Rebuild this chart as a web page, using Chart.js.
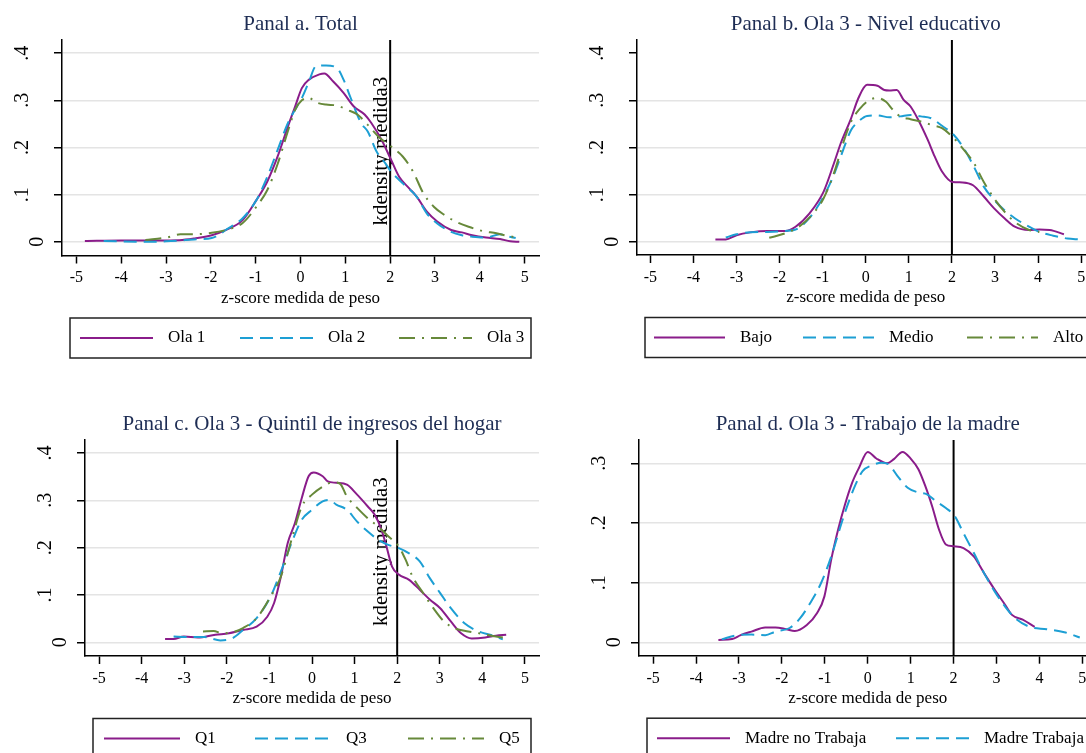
<!DOCTYPE html>
<html lang="es">
<head>
<meta charset="UTF-8">
<title>z-score medida de peso - kdensity</title>
<script src="https://cdn.jsdelivr.net/npm/chart.js"></script>
<style>
  html, body { margin: 0; padding: 0; background: #fff; }
  body { width: 1086px; height: 753px; overflow: hidden; position: relative; }
  .panel { position: absolute; overflow: hidden; }
</style>
</head>
<body>
<div class="panel" style="left:0;top:0;width:543px;height:400px"><canvas id="panelA" width="543" height="400"></canvas></div>
<div class="panel" style="left:543px;top:0;width:543px;height:400px"><canvas id="panelB" width="600" height="400"></canvas></div>
<div class="panel" style="left:0;top:400px;width:543px;height:353px"><canvas id="panelC" width="543" height="353"></canvas></div>
<div class="panel" style="left:543px;top:400px;width:543px;height:353px"><canvas id="panelD" width="600" height="353"></canvas></div>

<script>
// linea vertical de referencia (z = 2)
const xLineValue = 2;

// Panel a. Total
const ola1X = [-4.81,-4.0,-3.2,-2.7,-2.37,-1.98,-1.67,-1.29,-0.98,-0.74,-0.51,-0.28,-0.12,0.03,0.19,0.42,0.53,0.73,0.96,1.19,1.43,1.58,1.81,2.02,2.2,2.43,2.59,2.82,3.05,3.36,3.6,3.83,4.14,4.45,4.68,4.88];
const ola1Y = [0.002,0.003,0.003,0.0035,0.007,0.014,0.025,0.046,0.089,0.128,0.181,0.245,0.287,0.326,0.344,0.355,0.357,0.340,0.316,0.287,0.270,0.252,0.216,0.174,0.138,0.113,0.096,0.064,0.043,0.025,0.020,0.014,0.009,0.006,0.001,0.0];
const ola2X = [-4.39,-3.5,-3.0,-2.37,-1.98,-1.83,-1.67,-1.29,-0.98,-0.74,-0.51,-0.28,0.05,0.19,0.34,0.57,0.81,0.96,1.12,1.35,1.5,1.7,1.89,2.02,2.28,2.59,2.82,3.05,3.36,3.6,3.83,4.14,4.45,4.6,4.8];
const ola2Y = [0.002,0.0,0.001,0.005,0.008,0.014,0.025,0.05,0.089,0.138,0.195,0.252,0.309,0.34,0.372,0.374,0.369,0.344,0.305,0.252,0.234,0.191,0.167,0.149,0.124,0.096,0.06,0.039,0.021,0.014,0.011,0.009,0.016,0.012,0.008];
const ola3X = [-3.46,-2.99,-2.68,-2.37,-1.98,-1.67,-1.29,-0.98,-0.74,-0.51,-0.28,-0.12,0.03,0.19,0.34,0.57,0.81,1.04,1.27,1.5,1.74,2.02,2.28,2.51,2.74,2.98,3.21,3.44,3.75,4.06,4.37,4.6,4.84];
const ola3Y = [0.004,0.009,0.016,0.016,0.019,0.025,0.04,0.075,0.11,0.165,0.235,0.28,0.300,0.305,0.296,0.291,0.289,0.28,0.27,0.248,0.223,0.202,0.181,0.149,0.103,0.074,0.057,0.044,0.032,0.023,0.018,0.013,0.009];

// Panel b. Nivel educativo
const bajoX = [-3.49,-3.25,-3.0,-2.68,-2.28,-1.87,-1.63,-1.31,-0.98,-0.74,-0.58,-0.34,-0.17,0.03,0.27,0.43,0.55,0.72,0.88,1.04,1.2,1.44,1.6,1.77,2.01,2.25,2.49,2.74,2.98,3.22,3.46,3.79,4.03,4.27,4.6];
const bajoY = [0.005,0.005,0.014,0.02,0.023,0.023,0.032,0.06,0.106,0.166,0.209,0.262,0.305,0.333,0.331,0.322,0.321,0.322,0.301,0.287,0.262,0.216,0.181,0.149,0.127,0.126,0.12,0.096,0.071,0.05,0.032,0.025,0.026,0.025,0.016];
const medioX = [-3.25,-3.0,-2.68,-2.28,-1.87,-1.63,-1.31,-0.98,-0.74,-0.58,-0.34,-0.17,0.03,0.27,0.55,0.8,1.04,1.28,1.52,1.77,2.01,2.25,2.49,2.74,2.98,3.22,3.46,3.79,4.03,4.35,4.68,4.96];
const medioY = [0.009,0.016,0.02,0.021,0.023,0.026,0.05,0.096,0.142,0.181,0.237,0.255,0.267,0.268,0.264,0.266,0.269,0.266,0.262,0.246,0.23,0.202,0.163,0.117,0.089,0.067,0.05,0.032,0.021,0.013,0.007,0.005];
const altoX = [-2.24,-1.87,-1.55,-1.22,-0.98,-0.74,-0.5,-0.34,-0.13,0.07,0.27,0.47,0.63,0.8,1.04,1.28,1.52,1.77,2.01,2.25,2.49,2.74,2.98,3.22,3.46,3.79,4.03];
const altoY = [0.0085,0.018,0.032,0.06,0.092,0.145,0.216,0.255,0.283,0.3,0.305,0.297,0.28,0.266,0.26,0.255,0.248,0.241,0.223,0.198,0.17,0.127,0.092,0.064,0.042,0.025,0.021];

// Panel c. Quintil de ingresos
const q1X = [-3.45,-3.25,-3.01,-2.68,-2.27,-1.95,-1.62,-1.3,-1.05,-0.89,-0.73,-0.57,-0.4,-0.24,-0.08,0.04,0.25,0.37,0.57,0.82,1.06,1.31,1.47,1.63,1.75,1.88,2.04,2.28,2.53,2.77,3.01,3.26,3.5,3.75,4.07,4.32,4.56];
const q1Y = [0.007,0.007,0.012,0.01,0.016,0.019,0.026,0.033,0.054,0.083,0.139,0.21,0.252,0.305,0.351,0.359,0.351,0.34,0.337,0.333,0.312,0.287,0.27,0.238,0.202,0.16,0.143,0.132,0.111,0.09,0.072,0.044,0.019,0.008,0.01,0.014,0.016];
const q3X = [-3.25,-2.93,-2.52,-2.15,-1.87,-1.62,-1.3,-0.97,-0.73,-0.48,-0.24,0.0,0.25,0.41,0.57,0.82,1.06,1.31,1.55,1.79,2.04,2.28,2.53,2.77,3.01,3.26,3.58,3.91,4.24,4.48];
const q3Y = [0.012,0.011,0.011,0.004,0.0085,0.026,0.051,0.097,0.15,0.21,0.259,0.28,0.298,0.301,0.291,0.28,0.255,0.234,0.217,0.206,0.199,0.188,0.171,0.135,0.104,0.072,0.04,0.023,0.014,0.006];
const q5X = [-2.56,-2.31,-2.11,-1.87,-1.62,-1.3,-0.97,-0.73,-0.48,-0.24,0.0,0.25,0.49,0.66,0.82,1.06,1.31,1.55,1.79,2.04,2.2,2.36,2.61,2.85,3.1,3.34,3.67,3.99,4.32,4.6];
const q5Y = [0.023,0.024,0.019,0.021,0.03,0.051,0.097,0.139,0.217,0.287,0.312,0.329,0.338,0.335,0.308,0.284,0.262,0.245,0.224,0.202,0.174,0.139,0.104,0.072,0.044,0.03,0.023,0.018,0.012,0.0085];

// Panel d. Trabajo de la madre
const noTrabajaX = [-3.48,-3.16,-2.96,-2.71,-2.39,-2.15,-1.9,-1.7,-1.42,-1.18,-1.01,-0.85,-0.69,-0.53,-0.36,-0.2,0.0,0.2,0.45,0.61,0.81,1.01,1.18,1.34,1.5,1.66,1.82,1.99,2.23,2.47,2.71,2.96,3.2,3.36,3.61,3.89];
const noTrabajaY = [0.004,0.0056,0.012,0.018,0.025,0.025,0.022,0.019,0.029,0.049,0.077,0.139,0.189,0.231,0.268,0.293,0.319,0.308,0.3,0.307,0.319,0.307,0.29,0.262,0.228,0.189,0.164,0.161,0.158,0.144,0.116,0.088,0.063,0.046,0.038,0.026];
const trabajaX = [-3.4,-3.04,-2.71,-2.39,-2.15,-1.82,-1.58,-1.34,-1.09,-0.85,-0.61,-0.45,-0.28,-0.12,0.08,0.32,0.49,0.69,0.93,1.18,1.38,1.58,1.82,2.03,2.23,2.47,2.71,2.96,3.2,3.44,3.77,4.17,4.58,4.94];
const trabajaY = [0.005,0.012,0.013,0.012,0.018,0.024,0.04,0.066,0.099,0.144,0.2,0.234,0.265,0.287,0.296,0.301,0.298,0.279,0.259,0.251,0.248,0.237,0.225,0.211,0.183,0.15,0.116,0.085,0.06,0.04,0.026,0.022,0.017,0.008];

const SERIF = "'Liberation Serif', 'Times New Roman', serif";
const styles = [
  { color: '#8a1c8a', dash: [] },
  { color: '#1d9fd4', dash: [13, 7] },
  { color: '#67893a', dash: [16, 7, 2, 7] }
];

function pts(xs, ys) { return xs.map((x, i) => ({ x: x, y: ys[i] })); }

const decor = {
  id: 'decor',
  beforeDatasetsDraw(chart, args, o) {
    const { ctx, chartArea: a, scales: { x } } = chart;
    ctx.save();
    if (o.note) {
      ctx.font = '21px ' + SERIF;
      ctx.fillStyle = '#000';
      ctx.textAlign = 'left';
      ctx.textBaseline = 'alphabetic';
      ctx.translate(o.noteX, a.bottom - 30);
      ctx.rotate(-Math.PI / 2);
      ctx.fillText(o.note, 0, 0);
    }
    ctx.restore();
    ctx.save();
    const px = x.getPixelForValue(xLineValue);
    ctx.strokeStyle = '#000';
    ctx.lineWidth = 2;
    ctx.beginPath();
    ctx.moveTo(px, a.top);
    ctx.lineTo(px, a.bottom);
    ctx.stroke();
    ctx.restore();
  },
  afterDraw(chart, args, o) {
    const { ctx, chartArea: a, scales: { y } } = chart;
    ctx.save();
    // titulo
    ctx.fillStyle = '#1e2d54';
    ctx.font = '21px ' + SERIF;
    ctx.textAlign = 'center';
    ctx.textBaseline = 'middle';
    ctx.fillText(o.title, (a.left + a.right) / 2, 24);
    // titulo eje x
    ctx.fillStyle = '#000';
    ctx.font = '17px ' + SERIF;
    ctx.fillText('z-score medida de peso', (a.left + a.right) / 2, a.bottom + 43);
    // etiquetas eje y (rotadas)
    ctx.font = '20px ' + SERIF;
    ctx.textBaseline = 'alphabetic';
    y.ticks.forEach(t => {
      const v = t.value;
      const lab = v === 0 ? '0' : '.' + Math.round(v * 10);
      ctx.save();
      ctx.translate(a.left - (v === 0 ? 19 : 34), y.getPixelForValue(v));
      ctx.rotate(-Math.PI / 2);
      ctx.fillText(lab, 0, 0);
      ctx.restore();
    });
    // leyenda
    const top = a.bottom + 62.5, left = a.left + 8;
    ctx.strokeStyle = '#222';
    ctx.lineWidth = 1.5;
    ctx.strokeRect(left, top, o.legendWidth, 40);
    ctx.font = '17px ' + SERIF;
    ctx.textAlign = 'left';
    ctx.textBaseline = 'middle';
    chart.data.datasets.forEach((ds, i) => {
      const x0 = left + o.legendCols[i], ly = top + 20;
      ctx.strokeStyle = ds.borderColor;
      ctx.lineWidth = ds.borderWidth;
      ctx.setLineDash(ds.borderDash);
      ctx.beginPath();
      ctx.moveTo(x0, ly);
      ctx.lineTo(x0 + o.keyLen, ly);
      ctx.stroke();
      ctx.setLineDash([]);
      ctx.fillStyle = '#000';
      ctx.fillText(ds.label, x0 + o.keyLen + 15, ly);
    });
    ctx.restore();
  }
};

function makePanel(id, opt) {
  const canvas = document.getElementById(id);
  const W = canvas.width, H = canvas.height;
  const datasets = opt.series.map((s, i) => ({
    label: s.label,
    data: pts(s.x, s.y),
    borderColor: styles[i].color,
    borderDash: styles[i].dash,
    borderWidth: 2,
    pointRadius: 0,
    fill: false,
    cubicInterpolationMode: 'monotone',
    order: opt.series.length - i
  }));
  new Chart(canvas, {
    type: 'line',
    data: { datasets: datasets },
    plugins: [decor],
    options: {
      responsive: false,
      animation: false,
      events: [],
      devicePixelRatio: 1,
      layout: { padding: { left: 0, top: 40, right: W - opt.area.right, bottom: 0 } },
      plugins: {
        legend: { display: false },
        tooltip: { enabled: false },
        decor: { title: opt.title, note: opt.note, noteX: 387, legendWidth: opt.legendWidth,
                 legendCols: opt.legendCols, keyLen: opt.keyLen }
      },
      scales: {
        x: {
          type: 'linear', min: opt.xRange[0], max: opt.xRange[1],
          afterFit: s => { s.height = H - opt.area.bottom; },
          border: { color: '#000', width: 1.5 },
          grid: { drawOnChartArea: false, drawTicks: true, tickLength: 8, tickColor: '#000', tickWidth: 1.5 },
          ticks: { stepSize: 1, includeBounds: false, autoSkip: false, maxRotation: 0, padding: 5,
                   color: '#000', font: { family: SERIF, size: 16 }, callback: v => String(v) }
        },
        y: {
          type: 'linear', min: opt.yRange[0], max: opt.yRange[1],
          afterFit: s => { s.width = opt.area.left; },
          border: { color: '#000', width: 1.5 },
          grid: {
            color: c => (opt.hideTopGrid && c.tick && c.tick.value > 0.35) ? 'rgba(0,0,0,0)' : '#e4e4e4',
            lineWidth: 1.5, drawTicks: true, tickLength: 8, tickColor: '#000', tickWidth: 1.5
          },
          ticks: { display: false, stepSize: 0.1, includeBounds: false }
        }
      }
    }
  });
}

makePanel('panelA', {
  title: 'Panal a. Total', note: 'kdensity medida3',
  area: { left: 62, right: 539, bottom: 255.5 }, xRange: [-5.32, 5.32], yRange: [-0.029, 0.428],
  legendWidth: 461, legendCols: [10, 170, 329], keyLen: 73,
  series: [ { label: 'Ola 1', x: ola1X, y: ola1Y }, { label: 'Ola 2', x: ola2X, y: ola2Y }, { label: 'Ola 3', x: ola3X, y: ola3Y } ]
});
makePanel('panelB', {
  title: 'Panal b. Ola 3 - Nivel educativo', note: null, hideTopGrid: true,
  area: { left: 94, right: 551.5, bottom: 255 }, xRange: [-5.31, 5.31], yRange: [-0.028, 0.428],
  legendWidth: 461, legendCols: [9, 158, 322], keyLen: 71,
  series: [ { label: 'Bajo', x: bajoX, y: bajoY }, { label: 'Medio', x: medioX, y: medioY }, { label: 'Alto', x: altoX, y: altoY } ]
});
makePanel('panelC', {
  title: 'Panal c. Ola 3 - Quintil de ingresos del hogar', note: 'kdensity medida3',
  area: { left: 85, right: 539, bottom: 256 }, xRange: [-5.33, 5.33], yRange: [-0.029, 0.4275],
  legendWidth: 438, legendCols: [11, 162, 315], keyLen: 76,
  series: [ { label: 'Q1', x: q1X, y: q1Y }, { label: 'Q3', x: q3X, y: q3Y }, { label: 'Q5', x: q5X, y: q5Y } ]
});
makePanel('panelD', {
  title: 'Panal d. Ola 3 - Trabajo de la madre', note: null,
  area: { left: 96, right: 553.5, bottom: 255.7 }, xRange: [-5.33, 5.33], yRange: [-0.0224, 0.339],
  legendWidth: 461, legendCols: [10, 249], keyLen: 73,
  series: [ { label: 'Madre no Trabaja', x: noTrabajaX, y: noTrabajaY }, { label: 'Madre Trabaja', x: trabajaX, y: trabajaY } ]
});
</script>
</body>
</html>
